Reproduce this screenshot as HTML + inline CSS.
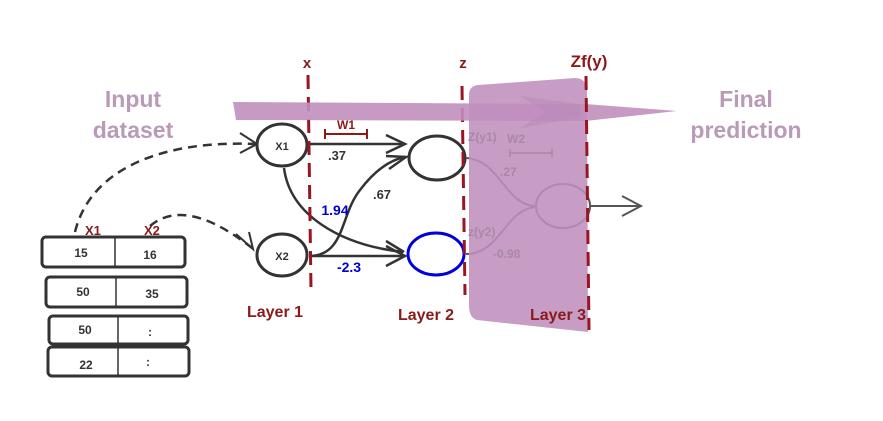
<!DOCTYPE html>
<html><head><meta charset="utf-8"><style>
html,body{margin:0;padding:0;background:#fff;}
svg{display:block;}
text{font-family:"Liberation Sans",sans-serif;font-weight:bold;}
</style></head><body>
<svg width="883" height="421" viewBox="0 0 883 421" xmlns="http://www.w3.org/2000/svg">
<text x="307" y="68" font-size="15" fill="#8b1a1a" text-anchor="middle">x</text>
<text x="463" y="68" font-size="15" fill="#8b1a1a" text-anchor="middle">z</text>
<text x="589" y="67" font-size="17" fill="#8b1a1a" text-anchor="middle">Zf(y)</text>

<text x="133" y="107" font-size="23" fill="#b99bb8" text-anchor="middle">Input</text>
<text x="133" y="138" font-size="23" fill="#b99bb8" text-anchor="middle">dataset</text>
<text x="746" y="107" font-size="23" fill="#b99bb8" text-anchor="middle">Final</text>
<text x="746" y="138" font-size="23" fill="#b99bb8" text-anchor="middle">prediction</text>

<path d="M75,232 C90,170 160,140 255,144" fill="none" stroke="#333" stroke-width="2.5" stroke-dasharray="9,6"/>
<path d="M240,133 L257,144 L240,153" fill="none" stroke="#333" stroke-width="2"/>
<path d="M150,226 C175,205 210,215 252,248" fill="none" stroke="#333" stroke-width="2.5" stroke-dasharray="9,6"/>
<path d="M236,234 L253,249 L249,232" fill="none" stroke="#333" stroke-width="2"/>

<g stroke="#333" stroke-width="3" fill="#fff">
<rect x="42" y="237" width="143" height="30" rx="4"/>
<rect x="46" y="277" width="141" height="30" rx="4"/>
<rect x="49" y="316" width="139" height="28" rx="4"/>
<rect x="48" y="347" width="141" height="29" rx="4"/>
</g>
<g stroke="#333" stroke-width="1.5">
<line x1="115" y1="238" x2="115" y2="266"/>
<line x1="116" y1="278" x2="116" y2="306"/>
<line x1="118" y1="317" x2="118" y2="343"/>
<line x1="118" y1="348" x2="118" y2="375"/>
</g>
<g font-size="12" fill="#333" text-anchor="middle">
<text x="81" y="257">15</text><text x="150" y="259">16</text>
<text x="83" y="296">50</text><text x="152" y="298">35</text>
<text x="85" y="334">50</text><text x="150" y="336">:</text>
<text x="86" y="369">22</text><text x="148" y="366">:</text>
</g>
<text x="85" y="235" font-size="13" fill="#8b1a1a">X1</text>
<text x="144" y="235" font-size="13" fill="#8b1a1a">X2</text>

<g fill="none" stroke="#333" stroke-width="2.5">
<line x1="309" y1="144" x2="403" y2="144"/>
<path d="M386,135 L405,144 L386,153"/>
<path d="M309,256 C345,256 340,215 360,190 C375,170 390,160 405,157"/>
<path d="M386,156 L406,157 L389,169"/>
<path d="M284,168 C290,215 340,245 403,252"/>
<line x1="309" y1="256" x2="403" y2="256"/>
<path d="M386,246 L405,256 L386,266"/>
<path d="M386,241 L404,252"/>
</g>
<g stroke="#8b1a1a" stroke-width="2">
<line x1="325" y1="134" x2="367" y2="134"/>
<line x1="325" y1="129" x2="325" y2="139"/>
<line x1="367" y1="129" x2="367" y2="139"/>
</g>
<text x="346" y="129" font-size="12" fill="#8b1a1a" text-anchor="middle">W1</text>
<text x="337" y="160" font-size="13" fill="#333" text-anchor="middle">.37</text>
<text x="382" y="199" font-size="13" fill="#333" text-anchor="middle">.67</text>
<text x="335" y="215" font-size="14" fill="#0000cc" text-anchor="middle">1.94</text>
<text x="349" y="272" font-size="14" fill="#0000cc" text-anchor="middle">-2.3</text>

<g fill="#fff" stroke="#333" stroke-width="3">
<ellipse cx="282" cy="145" rx="25" ry="21"/>
<ellipse cx="282" cy="255" rx="25" ry="21"/>
<ellipse cx="437" cy="158" rx="28" ry="22"/>
</g>
<ellipse cx="436" cy="254" rx="28" ry="21" fill="#fff" stroke="#0000dd" stroke-width="3"/>
<text x="282" y="150" font-size="11" fill="#333" text-anchor="middle">X1</text>
<text x="282" y="260" font-size="11" fill="#333" text-anchor="middle">X2</text>

<text x="275" y="317" font-size="16" fill="#8b1a1a" text-anchor="middle">Layer 1</text>
<text x="426" y="320" font-size="16" fill="#8b1a1a" text-anchor="middle">Layer 2</text>

<g stroke="#9b1520" stroke-width="3" stroke-dasharray="14,8">
<line x1="308" y1="75" x2="311" y2="290"/>
<line x1="462" y1="86" x2="465" y2="295"/>
</g>

<g fill="none" stroke="#555" stroke-width="2">
<ellipse cx="563" cy="206" rx="27" ry="22"/>
<path d="M466,158 C500,160 505,205 535,206"/>
<path d="M466,254 C500,254 505,210 535,207"/>
<line x1="590" y1="206" x2="640" y2="206"/>
<path d="M622,196 L641,206 L622,216"/>
</g>
<path d="M478,85 L575,78 Q586,78 587,90 L588,332 L477,320 Q469,318 469,305 L469,95 Q469,86 478,85 Z" fill="#c08fbd" fill-opacity="0.88"/>
<g font-size="12" fill="#a888a6">
<text x="468" y="141">Z(y1)</text>
<text x="507" y="143">W2</text>
<text x="500" y="176">.27</text>
<text x="468" y="236">z(y2)</text>
<text x="493" y="258">-0.98</text>
</g>
<g stroke="#a888a6" stroke-width="1.5"><line x1="510" y1="153" x2="552" y2="153"/><line x1="510" y1="149" x2="510" y2="157"/><line x1="552" y1="149" x2="552" y2="157"/></g>
<path d="M233,102 L585,104 L677,111 L585,121 L236,120 Z" fill="#c08fbd" fill-opacity="0.9"/>
<path d="M520,96 L580,104 L580,118 L520,128 L545,112 Z" fill="#b888b5" fill-opacity="0.5"/>
<line x1="586" y1="76" x2="589" y2="330" stroke="#9b1520" stroke-width="3" stroke-dasharray="14,8"/>
<text x="558" y="320" font-size="16" fill="#8b1a1a" text-anchor="middle">Layer 3</text>
</svg>
</body></html>
